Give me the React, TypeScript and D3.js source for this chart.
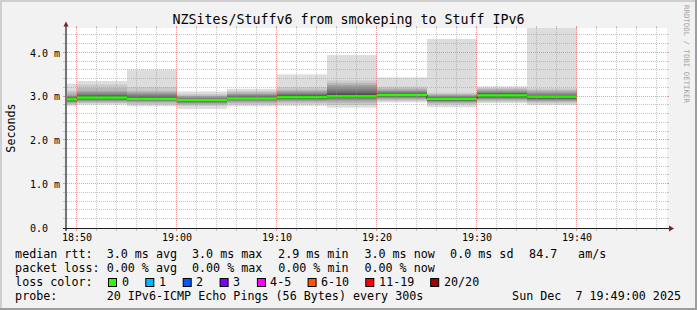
import React from 'react';
import * as d3 from 'd3';

const W = 697;
const H = 310;

const TITLE = 'NZSites/Stuffv6 from smokeping to Stuff IPv6';
const Y_LABEL = 'Seconds';
const WATERMARK = 'RRDTOOL / TOBI OETIKER';

// graph window (UTC, 2025-12-07)
const windowStart = '18:49';
const windowEnd = '19:49';

// end time of every 300 s step
const stepEnds = ['18:50', '18:55', '19:00', '19:05', '19:10', '19:15', '19:20', '19:25', '19:30', '19:35', '19:40'];

// median rtt per step (ms)
const medianMs = [2.94, 2.98, 2.95, 2.92, 2.96, 2.99, 3.01, 3.04, 2.95, 3.03, 3.0];

// the 20 sorted ping rtts of each step (ms)
const pingsMs = [
  [2.79, 2.82, 2.84, 2.86, 2.88, 2.89, 2.9, 2.91, 2.92, 2.93, 2.95, 2.96, 2.97, 2.98, 3.0, 3.02, 3.05, 3.1, 3.14, 3.3],
  [2.82, 2.85, 2.87, 2.89, 2.91, 2.93, 2.94, 2.95, 2.96, 2.97, 2.99, 3.0, 3.02, 3.04, 3.07, 3.1, 3.13, 3.2, 3.28, 3.36],
  [2.78, 2.82, 2.85, 2.88, 2.9, 2.91, 2.92, 2.93, 2.94, 2.95, 2.96, 2.97, 2.99, 3.01, 3.04, 3.07, 3.1, 3.13, 3.22, 3.62],
  [2.72, 2.79, 2.82, 2.84, 2.86, 2.87, 2.88, 2.89, 2.9, 2.91, 2.92, 2.93, 2.94, 2.95, 2.97, 2.99, 3.01, 3.03, 3.06, 3.12],
  [2.78, 2.82, 2.85, 2.88, 2.9, 2.92, 2.93, 2.94, 2.95, 2.96, 2.97, 2.98, 2.99, 3.01, 3.03, 3.05, 3.07, 3.1, 3.13, 3.18],
  [2.79, 2.84, 2.87, 2.9, 2.92, 2.94, 2.95, 2.96, 2.97, 2.98, 3.0, 3.01, 3.03, 3.05, 3.07, 3.1, 3.13, 3.16, 3.22, 3.51],
  [2.75, 2.81, 2.86, 2.9, 2.93, 2.95, 2.97, 2.99, 3.0, 3.01, 3.03, 3.05, 3.08, 3.12, 3.17, 3.23, 3.27, 3.31, 3.37, 3.95],
  [2.87, 2.9, 2.93, 2.95, 2.97, 2.99, 3.0, 3.01, 3.02, 3.03, 3.05, 3.06, 3.07, 3.09, 3.11, 3.13, 3.16, 3.19, 3.23, 3.44],
  [2.76, 2.82, 2.85, 2.87, 2.89, 2.9, 2.91, 2.92, 2.93, 2.94, 2.96, 2.97, 2.98, 2.99, 3.0, 3.02, 3.04, 3.06, 3.09, 4.32],
  [2.85, 2.88, 2.91, 2.93, 2.95, 2.97, 2.98, 3.0, 3.01, 3.02, 3.04, 3.05, 3.07, 3.08, 3.1, 3.12, 3.15, 3.18, 3.2, 3.24],
  [2.81, 2.85, 2.88, 2.9, 2.92, 2.94, 2.95, 2.96, 2.97, 2.98, 3.0, 3.01, 3.02, 3.04, 3.06, 3.09, 3.12, 3.15, 3.19, 4.57],
];

const yMaxMs = 4.57;
const yTicks = [0, 1, 2, 3, 4];
const yTickLabels = ['0.0', '1.0 m', '2.0 m', '3.0 m', '4.0 m'];

const rttLegend = ['median rtt:', '3.0 ms avg', '3.0 ms max', '2.9 ms min', '3.0 ms now', '0.0 ms sd', '84.7', 'am/s'];
const lossLegend = ['packet loss:', '0.00 % avg', '0.00 % max', '0.00 % min', '0.00 % now'];
const lossColorTitle = 'loss color:';
const lossLabels = ['0', '1', '2', '3', '4-5', '6-10', '11-19', '20/20'];
const lossColors = ['#26ff00', '#00b8ff', '#0059ff', '#7e00ff', '#ff00ff', '#ff5500', '#ff0000', '#a10000'];
const probeTitle = 'probe:';
const probeText = '20 IPv6-ICMP Echo Pings (56 Bytes) every 300s';
const dateText = 'Sun Dec  7 19:49:00 2025';

const FONT = '"DejaVu Sans Mono", monospace';

const toTime = (s: string) => {
  const [h, m] = s.split(':').map(Number);
  return new Date(Date.UTC(2025, 11, 7, h, m, 0));
};

const PRE: React.CSSProperties = { whiteSpace: 'pre' };

export default function App() {
  const X0 = 67, Y0 = 228, XS = 600, YS = 200;
  const x = d3.scaleUtc().domain([toTime(windowStart), toTime(windowEnd)]).range([X0, X0 + XS]);
  const y = d3.scaleLinear().domain([0, yMaxMs]).range([Y0, Y0 - YS]);

  const steps = stepEnds.map((s, i) => {
    const t1 = toTime(s);
    const t0 = new Date(t1.getTime() - 300000);
    return { t0, t1, med: medianMs[i], p: pingsMs[i] };
  });

  const half = 10;
  const smokeCol = (ibot: number) => {
    const c = Math.floor((190 / half) * (half - ibot)) + 50;
    return `rgb(${c},${c},${c})`;
  };

  const majorX = x.ticks(d3.utcMinute.every(10) as any);
  const minorX = x.ticks(d3.utcMinute.every(2) as any).filter((t) => t.getUTCMinutes() % 10 !== 0);
  const minorY = d3.range(1, Math.floor(yMaxMs / 0.2) + 1).map((k) => k * 0.2).filter((v) => Math.abs(v - Math.round(v)) > 1e-6);
  const majorY = yTicks.filter((v) => v > 0);

  const px = (v: number) => Math.round(v) - 0.5;
  const fmt = d3.utcFormat('%H:%M');

  const medLine = d3
    .line<[number, number]>()
    .x((d) => d[0])
    .y((d) => d[1])
    .curve(d3.curveStepAfter);
  const medPts: [number, number][] = steps.map((s) => [x(s.t0), y(s.med)] as [number, number]);
  medPts.push([x(steps[steps.length - 1].t1), y(steps[steps.length - 1].med)]);

  const minorGrid = 'rgba(143,143,143,0.5)';
  const majorGrid = 'rgba(222,79,79,0.55)';

  const rttX = [16, 107.6, 192.9, 279, 365.3, 451, 530, 579];
  const lossX = [16, 107.6, 192.9, 279.1, 365.3];
  const boxX = [108, 145.3, 182.7, 219.6, 256.9, 307.6, 365.3, 430.2];
  const lblX = [123, 160, 197, 234, 271, 321.8, 380, 444.9];

  return (
    <svg width={W} height={H} style={{ position: 'absolute', left: 0, top: 0, display: 'block' }} fontFamily={FONT}>
      <defs>
        <clipPath id="cv">
          <rect x={X0} y={Y0 - YS} width={XS} height={YS} />
        </clipPath>
      </defs>
      {/* background + 3D border */}
      <rect x={0} y={0} width={W} height={H} fill="#f2f2f2" />
      <rect x={0} y={0} width={W} height={2} fill="#cfcfcf" />
      <rect x={0} y={0} width={2} height={H} fill="#cfcfcf" />
      <rect x={0} y={H - 2} width={W} height={2} fill="#9e9e9e" />
      <rect x={W - 2} y={0} width={2} height={H} fill="#9e9e9e" />

      {/* canvas */}
      <rect x={X0} y={Y0 - YS} width={XS} height={YS} fill="#ffffff" />

      <g clipPath="url(#cv)">
        {steps.map((s, i) =>
          d3.range(1, half + 1).map((ib) => {
            const lo = s.p[ib - 1];
            const hi = s.p[20 - ib];
            return (
              <rect
                key={`s${i}-${ib}`}
                x={x(s.t0)}
                width={x(s.t1) - x(s.t0)}
                y={y(hi)}
                height={y(lo) - y(hi)}
                fill={smokeCol(ib)}
              />
            );
          })
        )}
        <path d={medLine(medPts) || ''} fill="none" stroke="#202020" strokeWidth={1} />
        {steps.map((s, i) => (
          <rect key={`m${i}`} x={x(s.t0)} width={x(s.t1) - x(s.t0)} y={y(s.med) - 1.2} height={2.4} fill={lossColors[0]} />
        ))}
      </g>

      {/* grid on top */}
      <g strokeWidth={1} strokeDasharray="1,1" fill="none">
        {minorY.map((v, i) => (
          <line key={`my${i}`} x1={X0} x2={X0 + XS} y1={px(y(v))} y2={px(y(v))} stroke={minorGrid} />
        ))}
        {minorX.map((t, i) => (
          <line key={`mx${i}`} y1={Y0 - YS} y2={Y0} x1={px(x(t))} x2={px(x(t))} stroke={minorGrid} />
        ))}
        {majorY.map((v, i) => (
          <line key={`My${i}`} x1={X0} x2={X0 + XS} y1={px(y(v))} y2={px(y(v))} stroke={majorGrid} />
        ))}
        {majorX.map((t, i) => (
          <line key={`Mx${i}`} y1={Y0 - YS} y2={Y0} x1={px(x(t))} x2={px(x(t))} stroke={majorGrid} />
        ))}
      </g>
      {/* small ticks outside the canvas */}
      <g strokeWidth={1}>
        {minorY.map((v, i) => (
          <g key={`ty${i}`} stroke={minorGrid}>
            <line x1={X0 - 4} x2={X0 - 2} y1={px(y(v))} y2={px(y(v))} />
            <line x1={X0 + XS} x2={X0 + XS + 2} y1={px(y(v))} y2={px(y(v))} />
          </g>
        ))}
        {majorY.map((v, i) => (
          <g key={`tY${i}`} stroke={majorGrid}>
            <line x1={X0 - 4} x2={X0 - 2} y1={px(y(v))} y2={px(y(v))} />
            <line x1={X0 + XS} x2={X0 + XS + 2} y1={px(y(v))} y2={px(y(v))} />
          </g>
        ))}
        {minorX.map((t, i) => (
          <g key={`tx${i}`} stroke={minorGrid}>
            <line y1={Y0 + 1} y2={Y0 + 3} x1={px(x(t))} x2={px(x(t))} />
            <line y1={Y0 - YS - 2} y2={Y0 - YS} x1={px(x(t))} x2={px(x(t))} />
          </g>
        ))}
        {majorX.map((t, i) => (
          <g key={`tX${i}`} stroke={majorGrid}>
            <line y1={Y0 + 1} y2={Y0 + 3} x1={px(x(t))} x2={px(x(t))} />
            <line y1={Y0 - YS - 2} y2={Y0 - YS} x1={px(x(t))} x2={px(x(t))} />
          </g>
        ))}
      </g>

      {/* axes */}
      <line x1={X0 - 4} x2={X0 + XS + 3} y1={Y0 + 0.5} y2={Y0 + 0.5} stroke="#1f1f1f" strokeWidth={1} />
      <line x1={X0 - 1} x2={X0 - 1} y1={Y0 + 3} y2={Y0 - YS - 4} stroke="#1f1f1f" strokeWidth={1.2} />
      <path d={`M${X0 + XS + 2},${Y0 - 2.5} L${X0 + XS + 7},${Y0 + 0.5} L${X0 + XS + 2},${Y0 + 3.5} Z`} fill="#801f1f" />
      <path d={`M${X0 - 3.5},${Y0 - YS - 1.5} L${X0 - 1},${Y0 - YS - 6.5} L${X0 + 1.5},${Y0 - YS - 1.5} Z`} fill="#801f1f" />

      {/* axis labels */}
      <g fontSize={10} fill="#000">
        {yTicks.map((v, i) => (
          <text key={`yl${i}`} x={30} y={y(v) + 3.6} style={PRE}>
            {yTickLabels[i]}
          </text>
        ))}
        {majorX.map((t, i) => (
          <text key={`xl${i}`} x={x(t)} y={241.3} textAnchor="middle">
            {fmt(t)}
          </text>
        ))}
      </g>

      {/* title */}
      <text x={W / 2} y={23.5} textAnchor="middle" fontSize={13.3} fill="#000">
        {TITLE}
      </text>
      <text transform={`translate(14.6,${Y0 - YS / 2}) rotate(-90)`} textAnchor="middle" fontSize={11.7} fill="#000">
        {Y_LABEL}
      </text>
      <text transform="translate(684,5) rotate(90)" fontSize={7.4} fill="#a4a4a4">
        {WATERMARK}
      </text>

      {/* legend */}
      <g fontSize={11.7} fill="#000">
        {rttLegend.map((s, i) => (
          <text key={`r${i}`} x={rttX[i] - 0.9} y={258.2} style={PRE}>
            {s}
          </text>
        ))}
        {lossLegend.map((s, i) => (
          <text key={`l${i}`} x={lossX[i] - 0.9} y={272.2} style={PRE}>
            {s}
          </text>
        ))}
        <text x={16 - 0.9} y={286.2}>
          {lossColorTitle}
        </text>
        {lossLabels.map((s, i) => (
          <g key={`lc${i}`}>
            <rect x={boxX[i] + 0.5} y={278.5} width={8} height={8} fill={lossColors[i]} stroke="#000" strokeWidth={1} />
            <text x={lblX[i] - 0.9} y={286.2}>
              {s}
            </text>
          </g>
        ))}
        <text x={16 - 0.9} y={300.2}>
          {probeTitle}
        </text>
        <text x={107.6 - 0.9} y={300.2} style={PRE}>
          {probeText}
        </text>
        <text x={681} y={300.2} textAnchor="end" style={PRE}>
          {dateText}
        </text>
      </g>
    </svg>
  );
}
